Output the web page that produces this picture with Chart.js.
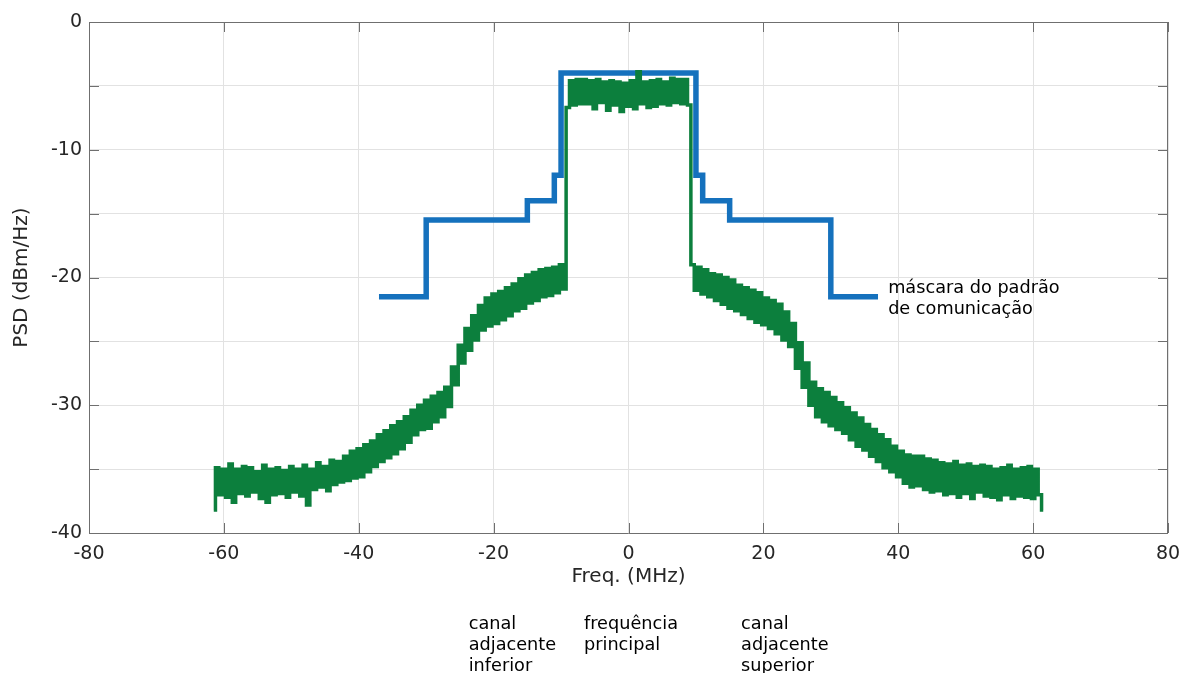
<!DOCTYPE html>
<html>
<head>
<meta charset="utf-8">
<title>PSD</title>
<script src="https://cdn.jsdelivr.net/npm/chart.js@4.4.1/dist/chart.umd.min.js"></script>
<style>
  html, body { margin: 0; padding: 0; background: #fff; }
  #psd { display: block; }
</style>
</head>
<body>
<canvas id="psd" width="1182" height="673"></canvas>
<script>
// PSD medida: amostras a cada 0,5 MHz a partir de -61,5 MHz
const FREQ_START = -61.5;
const FREQ_STEP = 0.5;
const psdValues = [
  // -61.5 .. -57
  -38.2, -34.9, -37.0, -35.0, -37.2, -34.6, -37.6, -35.0, -36.9, -34.8,
  // -56.5 .. -52
  -37.1, -34.9, -36.8, -35.2, -37.3, -34.7, -37.6, -35.0, -37.0, -34.9,
  // -51.5 .. -47
  -36.9, -35.1, -37.2, -34.8, -36.8, -35.0, -37.1, -34.7, -37.8, -35.0,
  // -46.5 .. -42
  -36.6, -34.5, -36.4, -34.8, -36.7, -34.3, -36.2, -34.4, -36.0, -34.0,
  // -41.5 .. -37
  -35.9, -33.6, -35.7, -33.4, -35.6, -33.1, -35.2, -32.8, -34.8, -32.3,
  // -36.5 .. -32
  -34.4, -32.0, -34.1, -31.6, -33.8, -31.3, -33.4, -30.9, -32.9, -30.4,
  // -31.5 .. -27
  -32.3, -30.0, -31.9, -29.6, -31.8, -29.3, -31.3, -29.0, -30.9, -28.6,
  // -26.5 .. -22
  -30.1, -27.0, -28.4, -25.3, -26.7, -24.0, -25.7, -23.0, -24.9, -22.2,
  // -21.5 .. -17
  -24.1, -21.6, -23.8, -21.3, -23.6, -21.1, -23.3, -20.8, -23.0, -20.5,
  // -16.5 .. -12
  -22.6, -20.1, -22.4, -19.8, -22.0, -19.6, -21.8, -19.4, -21.5, -19.3,
  // -11.5 .. -7
  -21.4, -19.2, -21.2, -19.0, -20.9, -6.7, -4.6, -6.5, -4.5, -6.4,
  // -6.5 .. -2
  -4.5, -6.4, -4.6, -6.8, -4.5, -6.3, -4.7, -6.9, -4.6, -6.5,
  // -1.5 .. 3
  -4.7, -7.0, -4.8, -6.6, -4.6, -6.8, -3.9, -6.4, -4.7, -6.7,
  // 3.5 .. 8
  -4.6, -6.6, -4.5, -6.4, -4.7, -6.5, -4.4, -6.3, -4.5, -6.4,
  // 8.5 .. 13
  -4.5, -6.5, -19.0, -21.0, -19.2, -21.3, -19.4, -21.5, -19.7, -21.8,
  // 13.5 .. 18
  -19.8, -22.1, -20.0, -22.4, -20.2, -22.6, -20.6, -22.9, -20.8, -23.2,
  // 18.5 .. 23
  -21.0, -23.5, -21.2, -23.7, -21.6, -24.0, -21.8, -24.4, -22.1, -24.9,
  // 23.5 .. 28
  -22.7, -25.4, -23.6, -27.1, -25.1, -28.6, -26.7, -30.0, -28.2, -30.9,
  // 28.5 .. 33
  -28.7, -31.3, -29.0, -31.6, -29.4, -31.9, -29.8, -32.2, -30.2, -32.7,
  // 33.5 .. 38
  -30.6, -33.2, -31.0, -33.5, -31.5, -34.0, -31.9, -34.4, -32.3, -34.9,
  // 38.5 .. 43
  -32.7, -35.2, -33.2, -35.6, -33.6, -36.1, -33.9, -36.4, -34.0, -36.3,
  // 43.5 .. 48
  -34.0, -36.6, -34.2, -36.8, -34.3, -36.7, -34.5, -37.0, -34.6, -36.9,
  // 48.5 .. 53
  -34.4, -37.2, -34.7, -36.9, -34.6, -37.3, -34.8, -36.8, -34.7, -37.1,
  // 53.5 .. 58
  -34.8, -37.2, -35.0, -37.4, -34.9, -37.0, -34.7, -37.3, -35.0, -37.1,
  // 58.5 .. 61.5
  -34.9, -37.2, -34.8, -37.3, -35.0, -37.0, -38.2
];

// máscara espectral (cantos do degrau)
const maskFreq  = [-37, -30, -30, -15, -15, -11, -11, -10, -10, 10, 10, 11, 11, 15, 15, 30, 30, 37];
const maskLevel = [-21.5, -21.5, -15.5, -15.5, -14, -14, -12, -12, -4, -4, -12, -12, -14, -14, -15.5, -15.5, -21.5, -21.5];

// eixos
const xTickValues = [-80, -60, -40, -20, 0, 20, 40, 60, 80];
const yTickValues = [-40, -35, -30, -25, -20, -15, -10, -5, 0];
const yTickLabels = ['-40', '', '-30', '', '-20', '', '-10', '', '0'];

// textos
const maskNote = ['máscara do padrão', 'de comunicação'];
const bandNotes = [
  ['canal', 'adjacente', 'inferior'],
  ['frequência', 'principal'],
  ['canal', 'adjacente', 'superior']
];

const FONT = "'DejaVu Sans', 'Noto Sans', sans-serif";
const TEXT_COLOR = '#262626';

const psdPoints = psdValues.map((v, i) => ({ x: FREQ_START + i * FREQ_STEP, y: v }));
const maskPoints = maskFreq.map((f, i) => ({ x: f, y: maskLevel[i] }));

// caixa com marcas internas + anotações
const frameAndNotes = {
  id: 'frameAndNotes',
  afterDraw(chart) {
    const { ctx, chartArea: a, scales } = chart;
    const xs = scales.x, ys = scales.y;
    const tl = 10;
    ctx.save();
    ctx.strokeStyle = '#6f6f6f';
    ctx.lineWidth = 1;
    ctx.beginPath();
    ctx.rect(Math.round(a.left) + 0.5, Math.round(a.top) + 0.5,
             Math.round(a.right - a.left) - 1, Math.round(a.bottom - a.top));
    xTickValues.forEach(v => {
      const px = Math.round(xs.getPixelForValue(v)) + 0.5;
      ctx.moveTo(px, a.bottom); ctx.lineTo(px, a.bottom - tl);
      ctx.moveTo(px, a.top); ctx.lineTo(px, a.top + tl);
    });
    yTickValues.forEach(v => {
      const py = Math.round(ys.getPixelForValue(v)) + 0.5;
      ctx.moveTo(a.left, py); ctx.lineTo(a.left + tl, py);
      ctx.moveTo(a.right, py); ctx.lineTo(a.right - tl, py);
    });
    ctx.stroke();

    ctx.fillStyle = '#000';
    ctx.font = '17.7px ' + FONT;
    ctx.textAlign = 'left';
    ctx.textBaseline = 'alphabetic';

    const mx = xs.getPixelForValue(38.5);
    maskNote.forEach((t, i) => ctx.fillText(t, mx, 293 + i * 21));

    const noteX = [-23.7, -6.6, 16.7];
    bandNotes.forEach((lines, k) => {
      const px = xs.getPixelForValue(noteX[k]);
      lines.forEach((t, i) => ctx.fillText(t, px, 629 + i * 21));
    });
    ctx.restore();
  }
};

new Chart(document.getElementById('psd'), {
  type: 'line',
  data: {
    datasets: [
      {
        label: 'PSD',
        data: psdPoints,
        borderColor: '#0c7f3d',
        borderWidth: 3.5,
        pointRadius: 0,
        stepped: 'middle',
        borderJoinStyle: 'miter'
      },
      {
        label: 'máscara',
        data: maskPoints,
        borderColor: '#1571bd',
        borderWidth: 5.5,
        pointRadius: 0,
        tension: 0,
        borderJoinStyle: 'miter'
      }
    ]
  },
  options: {
    responsive: false,
    animation: false,
    layout: { padding: { top: 22, right: 14, left: 0, bottom: 0 } },
    plugins: {
      legend: { display: false },
      tooltip: { enabled: false }
    },
    scales: {
      x: {
        type: 'linear',
        min: -80,
        max: 80,
        afterFit: (s) => { s.height = 140; s.paddingLeft = 0; s.paddingRight = 0; },
        afterBuildTicks: (s) => { s.ticks = xTickValues.map(v => ({ value: v })); },
        ticks: { color: TEXT_COLOR, font: { family: FONT, size: 19 }, padding: 10, autoSkip: false, maxRotation: 0 },
        grid: { color: '#e2e2e2', lineWidth: 1, drawTicks: false },
        border: { display: false },
        title: {
          display: true,
          text: 'Freq. (MHz)',
          color: TEXT_COLOR,
          font: { family: FONT, size: 20 },
          padding: { top: 0, bottom: 84 }
        }
      },
      y: {
        type: 'linear',
        min: -40,
        max: 0,
        afterFit: (s) => { s.width = 89; s.paddingTop = 0; s.paddingBottom = 0; },
        afterBuildTicks: (s) => { s.ticks = yTickValues.map(v => ({ value: v })); },
        ticks: {
          color: TEXT_COLOR,
          font: { family: FONT, size: 19 },
          padding: 7,
          autoSkip: false,
          callback: (v) => yTickLabels[yTickValues.indexOf(v)]
        },
        grid: { color: '#e2e2e2', lineWidth: 1, drawTicks: false },
        border: { display: false },
        title: {
          display: true,
          text: 'PSD (dBm/Hz)',
          color: TEXT_COLOR,
          font: { family: FONT, size: 20 },
          padding: { top: 10, bottom: 0 }
        }
      }
    }
  },
  plugins: [frameAndNotes]
});
</script>
</body>
</html>
